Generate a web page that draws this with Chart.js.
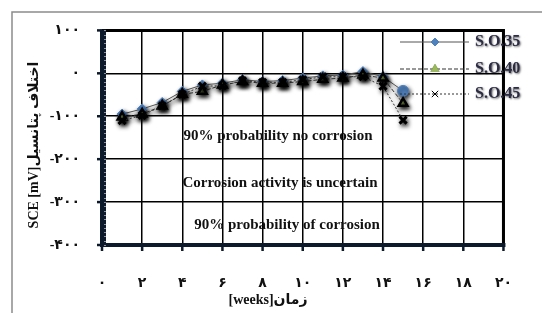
<!DOCTYPE html>
<html lang="fa">
<head>
<meta charset="UTF-8">
<title>SCE</title>
<script src="https://cdn.jsdelivr.net/npm/chart.js"></script>
<style>
    body { margin: 0; background: #fff; }
    #wrap { width: 542px; height: 313px; }
</style>
</head>
<body>
<div id="wrap"><canvas id="c" width="542" height="313"></canvas></div>
<script>
// داده ها
const weeks = [1, 2, 3, 4, 5, 6, 7, 8, 9, 10, 11, 12, 13, 14, 15];
const so35 = [-95, -83, -68, -42, -27, -23, -15, -19, -17, -11, -6, -4, 4, -8, -41];
const so40 = [-102, -95, -76, -49, -42, -27, -19, -23, -23, -19, -14, -11, -4, -11, -70];
const so45 = [-110, -98, -76, -49, -30, -29, -17, -21, -21, -15, -8, -8, -8, -30, -109];
const seriesNames = ['S.O.35', 'S.O.40', 'S.O.45'];
const xTickLabels = ['۰', '۲', '۴', '۶', '۸', '۱۰', '۱۲', '۱۴', '۱۶', '۱۸', '۲۰'];
const yTickLabels = ['-۴۰۰', '-۳۰۰', '-۲۰۰', '-۱۰۰', '۰', '۱۰۰'];
const zoneTexts = ['90% probability no corrosion', 'Corrosion activity is uncertain', '90% probability of corrosion'];
const xTitle = '[weeks]زمان';
const yTitle = 'SCE [mV]اختلاف پتانسیل';

const serif = "'Liberation Serif', 'DejaVu Sans', serif";

function pts(vals) {
    return weeks.map((w, i) => ({ x: w, y: vals[i] }));
}

// سایه نشانگرها
const shadowPlugin = {
    id: 'shadow',
    beforeDatasetDraw(chart) {
        const ctx = chart.ctx;
        ctx.save();
        ctx.shadowColor = 'rgba(0,0,0,0.9)';
        ctx.shadowBlur = 4;
        ctx.shadowOffsetX = 1.5;
        ctx.shadowOffsetY = 2.5;
    },
    afterDatasetDraw(chart) {
        chart.ctx.restore();
    }
};

const decoPlugin = {
    id: 'deco',
    beforeDraw(chart) {
        const ctx = chart.ctx;
        ctx.save();
        ctx.fillStyle = '#fff';
        ctx.fillRect(0, 0, chart.width, chart.height);
        ctx.strokeStyle = '#8c8c8c';
        ctx.lineWidth = 1.5;
        ctx.strokeRect(12, 12, 600, 400);
        ctx.restore();
    },
    afterDraw(chart) {
        const ctx = chart.ctx;
        const a = chart.chartArea;
        const xs = chart.scales.x, ys = chart.scales.y;
        ctx.save();
        // قاب نمودار
        ctx.strokeStyle = '#000';
        ctx.lineWidth = 3;
        ctx.beginPath();
        ctx.moveTo(a.left, a.top);
        ctx.lineTo(a.right, a.top);
        ctx.lineTo(a.right, a.bottom);
        ctx.stroke();
        ctx.strokeStyle = '#0d1a2b';
        ctx.lineWidth = 6;
        ctx.beginPath();
        ctx.moveTo(a.left + 1, a.top - 1);
        ctx.lineTo(a.left + 1, a.bottom + 1);
        ctx.stroke();
        ctx.lineWidth = 4;
        ctx.beginPath();
        ctx.moveTo(a.left - 2, a.bottom);
        ctx.lineTo(a.right + 2, a.bottom);
        ctx.stroke();
        // خط های کوچک محور عمودی
        ctx.strokeStyle = 'rgba(200,200,210,0.7)';
        ctx.lineWidth = 1;
        for (let v = -400; v <= 100; v += 10) {
            const py = Math.round(ys.getPixelForValue(v)) + 0.5;
            ctx.beginPath();
            ctx.moveTo(a.left + 2, py);
            ctx.lineTo(a.left + 4, py);
            ctx.stroke();
        }
        // تیک های اصلی
        ctx.strokeStyle = '#0d1a2b';
        ctx.lineWidth = 2.5;
        for (let v = -400; v <= 100; v += 100) {
            const py = ys.getPixelForValue(v);
            ctx.beginPath();
            ctx.moveTo(a.left - 5, py);
            ctx.lineTo(a.left, py);
            ctx.stroke();
        }
        for (let v = 0; v <= 20; v += 2) {
            const px = xs.getPixelForValue(v);
            ctx.beginPath();
            ctx.moveTo(px, a.bottom);
            ctx.lineTo(px, a.bottom + 6);
            ctx.stroke();
        }
        // متن نواحی
        ctx.fillStyle = '#111';
        ctx.font = 'bold 15px ' + serif;
        ctx.textAlign = 'center';
        ctx.textBaseline = 'middle';
        ctx.fillText(zoneTexts[0], 278, 136);
        ctx.fillText(zoneTexts[1], 280, 183);
        ctx.fillText(zoneTexts[2], 287, 225);
        // عنوان محورها
        ctx.font = 'bold 14px ' + serif;
        ctx.fillText(xTitle, 268, 300);
        ctx.save();
        ctx.translate(34, 145);
        ctx.rotate(-Math.PI / 2);
        ctx.font = 'bold 14px ' + serif;
        ctx.fillText(yTitle, 0, 0);
        ctx.restore();
        // راهنما
        const rows = [42, 69, 94];
        seriesNames.forEach((name, i) => {
            const ds = chart.data.datasets.find(d => d.label === name);
            const y = rows[i];
            ctx.save();
            ctx.strokeStyle = ds.borderColor;
            ctx.lineWidth = 1;
            ctx.setLineDash(ds.borderDash || []);
            ctx.beginPath();
            ctx.moveTo(400, y);
            ctx.lineTo(469, y);
            ctx.stroke();
            ctx.restore();
            ctx.save();
            ctx.fillStyle = ds.pointBackgroundColor;
            ctx.strokeStyle = ds.legendStroke;
            ctx.lineWidth = ds.legendBorder;
            Chart.helpers.drawPoint(ctx, {
                pointStyle: ds.legendStyle,
                radius: ds.legendRadius,
                rotation: 0,
                borderWidth: ds.legendBorder
            }, 435, y);
            ctx.restore();
            ctx.save();
            ctx.shadowColor = 'rgba(0,0,0,0.6)';
            ctx.shadowBlur = 2;
            ctx.shadowOffsetX = 1;
            ctx.shadowOffsetY = 1;
            ctx.fillStyle = '#2b2b44';
            ctx.font = 'bold 16px ' + serif;
            ctx.textAlign = 'left';
            ctx.textBaseline = 'middle';
            ctx.fillText(name, 475, y);
            ctx.restore();
        });
        ctx.restore();
    }
};

new Chart(document.getElementById('c'), {
    type: 'line',
    data: {
        datasets: [
            {
                label: seriesNames[0],
                data: pts(so35),
                order: 2,
                borderColor: '#555',
                borderWidth: 1,
                pointStyle: (c) => c.dataIndex === weeks.length - 1 ? 'circle' : 'rectRot',
                pointRadius: (c) => c.dataIndex === weeks.length - 1 ? 5.5 : 5,
                pointBackgroundColor: '#4f81bd',
                pointBorderColor: '#4f81bd',
                pointBorderWidth: 1,
                legendStyle: 'rectRot',
                legendStroke: '#4f81bd',
                legendBorder: 1,
                legendRadius: 4
            },
            {
                label: seriesNames[1],
                data: pts(so40),
                order: 1,
                borderColor: '#333',
                borderWidth: 1,
                borderDash: [4, 2],
                pointStyle: 'triangle',
                pointRadius: 5,
                pointBackgroundColor: '#9bbb59',
                pointBorderColor: '#000',
                pointBorderWidth: 2.5,
                legendStyle: 'triangle',
                legendStroke: '#6f8a3a',
                legendBorder: 0.5,
                legendRadius: 5
            },
            {
                label: seriesNames[2],
                data: pts(so45),
                order: 0,
                borderColor: '#333',
                borderWidth: 1,
                borderDash: [2, 2],
                pointStyle: 'crossRot',
                pointRadius: 5,
                pointBackgroundColor: '#000',
                pointBorderColor: '#000',
                pointBorderWidth: 3,
                legendStyle: 'crossRot',
                legendStroke: '#000',
                legendBorder: 1,
                legendRadius: 4.5
            }
        ]
    },
    options: {
        responsive: false,
        animation: false,
        layout: { padding: { top: 26, right: 14, left: 0, bottom: 0 } },
        plugins: { legend: { display: false }, tooltip: { enabled: false } },
        scales: {
            x: {
                type: 'linear',
                min: 0,
                max: 20,
                afterFit(s) { s.height = 68; },
                afterBuildTicks(s) { s.ticks = xTickLabels.map((t, i) => ({ value: i * 2 })); },
                ticks: {
                    padding: 30,
                    color: '#111',
                    font: { family: serif, size: 14, weight: 'bold' },
                    callback: (v, i) => xTickLabels[i]
                },
                grid: { color: '#000', lineWidth: 1.5, drawTicks: false },
                border: { display: false }
            },
            y: {
                min: -400,
                max: 100,
                afterFit(s) { s.width = 102; },
                afterBuildTicks(s) { s.ticks = yTickLabels.map((t, i) => ({ value: -400 + i * 100 })); },
                ticks: {
                    padding: 22,
                    color: '#111',
                    font: { family: serif, size: 14, weight: 'bold' },
                    callback: (v, i) => yTickLabels[i]
                },
                grid: { color: '#000', lineWidth: 1.5, drawTicks: false },
                border: { display: false }
            }
        }
    },
    plugins: [decoPlugin, shadowPlugin]
});
</script>
</body>
</html>
